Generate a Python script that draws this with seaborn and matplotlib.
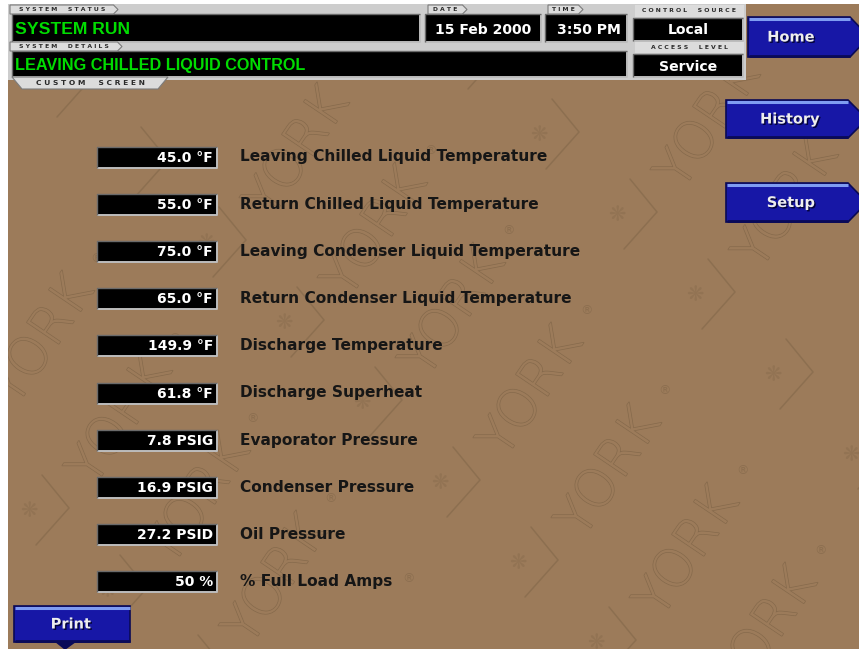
import matplotlib
matplotlib.use("Agg")
import matplotlib.pyplot as plt
from matplotlib.patches import Polygon, Rectangle
import matplotlib.patheffects as pe
import seaborn as sns

# ---------------- data ----------------
labels = [
    "Leaving Chilled Liquid Temperature",
    "Return Chilled Liquid Temperature",
    "Leaving Condenser Liquid Temperature",
    "Return Condenser Liquid Temperature",
    "Discharge Temperature",
    "Discharge Superheat",
    "Evaporator Pressure",
    "Condenser Pressure",
    "Oil Pressure",
    "% Full Load Amps",
]
values = [45.0, 55.0, 75.0, 65.0, 149.9, 61.8, 7.8, 16.9, 27.2, 50]
units = ["°F", "°F", "°F", "°F", "°F", "°F", "PSIG", "PSIG", "PSID", "%"]
decimals = [1, 1, 1, 1, 1, 1, 1, 1, 1, 0]

status_text = "SYSTEM RUN"
details_text = "LEAVING CHILLED LIQUID CONTROL"
date_text = "15 Feb 2000"
time_text = "3:50 PM"
control_source = "Local"
access_level = "Service"
side_buttons = ["Home", "History", "Setup"]
print_label = "Print"
tab_labels = ["SYSTEM STATUS", "SYSTEM DETAILS", "CUSTOM SCREEN", "DATE", "TIME",
              "CONTROL SOURCE", "ACCESS LEVEL"]
watermark_word = "YORK"

# ---------------- style ----------------
sns.set_theme(style="white")
plt.rcParams["font.family"] = ["DejaVu Sans"]
LIB = ["Liberation Sans", "DejaVu Sans"]

BG = "#9c7b5a"
WM = "#866a4c"
BLUE = "#1717a6"
GREEN = "#00dc00"

W, H = 859, 649
fig = plt.figure(figsize=(W / 100, H / 100), dpi=100)
fig.patch.set_facecolor("white")
ax = fig.add_axes([0, 0, 1, 1])
ax.set_xlim(0, W)
ax.set_ylim(H, 0)
ax.axis("off")


def spaced(s):
    return " ".join(s.replace(" ", "  "))


def rect(x0, y0, x1, y1, fc, ec="none", lw=0, z=2):
    ax.add_patch(Rectangle((x0, y0), x1 - x0, y1 - y0, facecolor=fc,
                           edgecolor=ec, linewidth=lw, zorder=z))


def black_box(x0, y0, x1, y1, z=6):
    rect(x0, y0, x1, y1, "black", z=z)
    ax.plot([x0, x1, x1], [y1, y1, y0], color="#bdbdbd", lw=1.4, zorder=z + 0.1,
            solid_capstyle="butt")
    ax.plot([x0, x0, x1], [y1, y0, y0], color="#6a6a6a", lw=1.0, zorder=z + 0.1,
            solid_capstyle="butt")


def tab(x0, y0, x1, y1, text, fs=4.4, z=7):
    cut = (y1 - y0) / 2
    ax.add_patch(Polygon([(x0, y0), (x1 - cut, y0), (x1, y0 + cut), (x1 - cut, y1), (x0, y1)],
                         closed=True, facecolor="#dcdcdc", edgecolor="#7c7c7c",
                         linewidth=0.8, zorder=z))
    ax.text((x0 + x1 - cut) / 2, (y0 + y1) / 2 + 0.3, spaced(text), fontsize=fs,
            color="#2a2a2a", fontweight="bold", ha="center", va="center", zorder=z + 0.1)


def blue_button(x0, y0, x1, y1, text, cx, tip=True, fs=10.5):
    mid = (y0 + y1) / 2
    if tip:
        pts = [(x0, y0), (x1, y0), (x1 + 19, mid), (x1, y1), (x0, y1)]
    else:
        pts = [(x0, y0), (x1, y0), (x1, y1), (x0, y1)]
    ax.add_patch(Polygon(pts, closed=True, facecolor=BLUE, edgecolor="#0a0a55",
                         linewidth=1.2, zorder=10))
    ax.plot([x0 + 1, x1], [y0 + 1.5, y0 + 1.5], color="#7f9cf2", lw=2.2, zorder=10.2,
            solid_capstyle="butt")
    ax.plot([x0 + 1, x1], [y1 - 1, y1 - 1], color="#0a0a58", lw=2.0, zorder=10.2,
            solid_capstyle="butt")
    ax.text(cx, mid, text, fontsize=fs, color="#eeeeee", fontweight="bold",
            ha="center", va="center", zorder=10.5,
            path_effects=[pe.withSimplePatchShadow(offset=(1, -1), shadow_rgbFace="#000030",
                                                   alpha=0.9)])


def inside(px, py, x0=8, y0=80, x1=W, y1=H):
    return x0 <= px <= x1 and y0 <= py <= y1


# ---------------- background ----------------
bg_patch = Rectangle((8, 4), W - 8, H - 4, facecolor=BG, edgecolor="none", zorder=0)
ax.add_patch(bg_patch)

# watermark lattice of YORK logos
base = (440, 483)
v1 = (78, 80)
v2 = (255, -188)
for a in range(-9, 10):
    for b in range(-4, 5):
        x = base[0] + a * v1[0] + b * v2[0]
        y = base[1] + a * v1[1] + b * v2[1]
        if -120 < x < W + 40 and 40 < y < H + 150:
            arts = []
            ln, = ax.plot([x + 13, x + 40, x + 7], [y - 36, y - 3, y + 34], color=WM,
                          lw=1.1, alpha=0.7, zorder=1)
            arts.append(ln)
            if inside(x, y, 14, 86, W - 6, H - 6):
                arts.append(ax.text(x, y, "❋", fontsize=15, color=WM, ha="center",
                                    va="center", alpha=0.45, zorder=1))
            if inside(x + 92, y - 90, 10, 95, W, H):
                arts.append(ax.text(x + 92, y - 90, watermark_word, fontsize=38, rotation=56,
                                    color=BG, ha="center", va="center", zorder=1,
                                    fontweight="light",
                                    path_effects=[pe.Stroke(linewidth=1.0, foreground=WM),
                                                  pe.Normal()]))
            if inside(x + 146, y - 172, 14, 86, W - 6, H - 6):
                arts.append(ax.text(x + 146, y - 172, "®", fontsize=9, color=WM,
                                    ha="center", va="center", zorder=1, alpha=0.7))
            for art in arts:
                art.set_clip_path(bg_patch)

# white page margins
rect(0, 0, 8, H, "white", z=9)
rect(0, 0, W, 4, "white", z=9)

# ---------------- header ----------------
rect(8, 4, 746, 80, "#cdcdcd", z=5)
black_box(12, 14, 420, 42)
black_box(12, 51, 627, 77)
black_box(425, 14, 541, 42)
black_box(545, 14, 627, 42)
black_box(633, 18, 743, 41)
black_box(633, 54, 743, 77)

tab(10, 5, 118, 14, tab_labels[0])
tab(10, 42, 122, 51, tab_labels[1])
ax.add_patch(Polygon([(12, 77), (168, 77), (158, 89), (22, 89)], closed=True,
                     facecolor="#dcdcdc", edgecolor="#7c7c7c", linewidth=0.8, zorder=7))
ax.text(90, 83, spaced(tab_labels[2]), fontsize=5.4, color="#2a2a2a", fontweight="bold",
        ha="center", va="center", zorder=7.1)
tab(428, 5, 467, 14, tab_labels[3])
tab(548, 5, 583, 14, tab_labels[4])
rect(635, 5, 744, 17, "#dcdcdc", z=7)
ax.text(689, 11, spaced(tab_labels[5]), fontsize=4.4, color="#2a2a2a", fontweight="bold",
        ha="center", va="center", zorder=7.1)
rect(635, 42, 744, 53, "#dcdcdc", z=7)
ax.text(689, 47.5, spaced(tab_labels[6]), fontsize=4.4, color="#2a2a2a", fontweight="bold",
        ha="center", va="center", zorder=7.1)

ax.text(15, 30, status_text, fontsize=12.6, color=GREEN, fontweight="bold",
        family=LIB, ha="left", va="center", zorder=8)
ax.text(15, 65.5, details_text, fontsize=11.7, color=GREEN, fontweight="bold",
        family=LIB, ha="left", va="center", zorder=8)
for txt, cx, cy in [(date_text, 483, 30), (time_text, 589, 30),
                    (control_source, 688, 30), (access_level, 688, 67)]:
    ax.text(cx, cy, txt, fontsize=10.1, color="white", fontweight="bold",
            ha="center", va="center", zorder=8)

# ---------------- buttons ----------------
blue_button(748, 17, 850, 57, side_buttons[0], cx=791)
blue_button(726, 100, 848, 138, side_buttons[1], cx=790)
blue_button(726, 183, 848, 222, side_buttons[2], cx=791)
blue_button(14, 606, 130, 642, print_label, cx=71, tip=False)
ax.add_patch(Polygon([(55, 642), (76, 642), (65, 650)], closed=True,
                     facecolor="#0a0a58", edgecolor="none", zorder=10))

# ---------------- readouts ----------------
for i, (lab, val, unit, dec) in enumerate(zip(labels, values, units, decimals)):
    cy = 157 + i * 47.2
    black_box(97, cy - 10.5, 217, cy + 10.5, z=10)
    ax.text(213, cy + 0.5, f"{val:.{dec}f} {unit}", fontsize=10.0, color="white",
            fontweight="bold", ha="right", va="center", zorder=11)
    ax.text(240, cy, lab, fontsize=11.1, color="#161616", fontweight="bold",
            ha="left", va="center", zorder=11)

fig.savefig("out.png", dpi=100, facecolor="white")
